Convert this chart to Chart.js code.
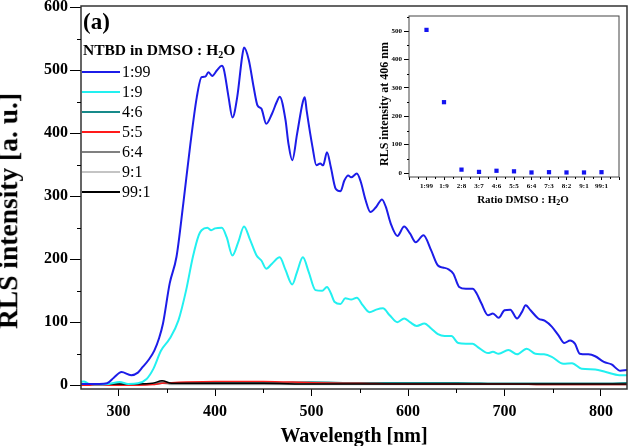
<!DOCTYPE html>
<html>
<head>
<meta charset="utf-8">
<script src="https://cdn.jsdelivr.net/npm/chart.js@4.4.0/dist/chart.umd.min.js"></script>
<style>
  body { margin: 0; background: #fff; }
  #wrap { position: relative; width: 629px; height: 446px; font-family: 'Liberation Serif', 'Times New Roman', serif; color: #000; }
  #main { position: absolute; left: 0; top: 0; }
  #inset { position: absolute; left: 375px; top: 8px; }
  #tag { position: absolute; left: 83px; top: 9px; font-weight: bold; font-size: 23px; line-height: 26px; }
  #legend-title { position: absolute; left: 83px; top: 41px; font-weight: bold; font-size: 15.5px; line-height: 18px; white-space: nowrap; }
  sub { vertical-align: -3px; line-height: 0; }
  #legend-title sub { font-size: 10px; }
  .row { position: absolute; left: 82px; height: 20px; display: flex; align-items: center; font-size: 16px; white-space: nowrap; }
  .row .swatch { display: inline-block; width: 38px; height: 2px; margin-right: 2px; }
  .vtitle { position: absolute; font-weight: bold; white-space: nowrap; transform: translate(-50%, -50%) rotate(-90deg); }
  #ytitle { left: 8px; top: 211px; font-size: 27.5px; line-height: 27.5px; }
  #inset-ytitle { left: 384px; top: 104px; font-size: 12px; line-height: 12px; }
  #inset-xtitle { position: absolute; left: 523px; top: 199px; transform: translate(-50%, -50%); font-weight: bold; font-size: 11px; line-height: 11px; white-space: nowrap; }
  #inset-xtitle sub { font-size: 8px; vertical-align: -2px; }
</style>
</head>
<body>
<div id="wrap">
  <canvas id="main" width="629" height="446"></canvas>
  <canvas id="inset" width="250" height="205"></canvas>
  <div id="ytitle" class="vtitle">RLS intensity [a. u.]</div>
  <div id="inset-ytitle" class="vtitle">RLS intensity at 406 nm</div>
  <div id="inset-xtitle">Ratio DMSO : H<sub>2</sub>O</div>
  <div id="tag">(a)</div>
  <div id="legend-title">NTBD in DMSO : H<sub>2</sub>O</div>
  <div id="legend"></div>
</div>
<script>
const serif = "'Liberation Serif', 'Times New Roman', serif";

// 1:99 spectrum
const wl199 = [260, 270, 280, 288, 295, 303, 313, 320, 325, 331, 337, 342, 346, 353, 360, 367, 374, 381, 386, 390, 393, 397, 402, 407, 409, 414, 418, 423, 428, 430, 435, 440, 444, 448, 453, 459, 464, 467, 473, 476, 480, 485, 491, 493, 495, 501, 505, 509, 512, 516, 520, 525, 530, 534, 538, 541, 547, 551, 556, 561, 567, 573, 577, 582, 589, 596, 602, 608, 616, 624, 631, 636, 642, 647, 653, 660, 667, 671, 676, 683, 688, 694, 700, 706, 713, 718, 722, 727, 735, 742, 749, 756, 762, 768, 773, 778, 787, 794, 803, 811, 820, 827];
const int199 = [2, 2, 2, 3, 12, 21, 16, 20, 29, 40, 55, 75, 98, 162, 204, 288, 378, 457, 489, 490, 497, 491, 500, 507, 502, 457, 425, 458, 521, 536, 516, 473, 444, 439, 415, 431, 450, 458, 421, 384, 357, 399, 450, 457, 435, 378, 349, 352, 349, 370, 346, 312, 308, 325, 333, 330, 336, 323, 294, 275, 283, 295, 283, 257, 237, 252, 241, 227, 238, 214, 190, 187, 184, 177, 156, 153, 153, 146, 130, 111, 114, 107, 119, 120, 106, 116, 127, 119, 106, 102, 93, 79, 67, 71, 66, 50, 49, 46, 37, 33, 23, 24];

// 1:9 spectrum
const wl19 = [260, 264, 268, 275, 290, 301, 310, 320, 329, 336, 344, 353, 362, 370, 377, 383, 386, 392, 396, 400, 407, 412, 418, 424, 430, 436, 443, 448, 453, 459, 467, 473, 480, 485, 491, 497, 504, 511, 516, 520, 524, 530, 535, 541, 547, 553, 560, 567, 574, 581, 589, 596, 602, 609, 617, 624, 631, 638, 645, 652, 660, 667, 672, 683, 688, 694, 704, 713, 723, 732, 741, 749, 761, 770, 780, 794, 805, 819, 827];
const int19 = [5, 6, 3, 1, 2, 5, 2, 3, 10, 26, 55, 74, 103, 151, 204, 238, 246, 250, 246, 249, 250, 235, 206, 227, 252, 232, 206, 198, 185, 193, 203, 183, 160, 180, 203, 180, 151, 150, 156, 146, 132, 129, 138, 136, 139, 127, 116, 120, 122, 111, 100, 106, 100, 94, 98, 90, 81, 78, 78, 67, 66, 66, 61, 51, 53, 50, 56, 49, 58, 50, 49, 45, 34, 35, 26, 25, 21, 16, 16];

// weak spectra
const wlTrace = [260, 280, 300, 320, 335, 345, 355, 370, 400, 450, 500, 550, 600, 650, 700, 750, 800, 827];
const int46 = [2, 1, 1, 2, 2, 3, 3, 4, 4, 4, 5, 4, 4, 4, 3, 3, 3, 4];
const int55 = [0, 0, 0, 0, 1, 3, 4, 5, 6, 6, 4, 3, 2, 2, 2, 1, 1, 1];
const int64 = [1, 1, 1, 1, 2, 5, 2, 2, 2, 2, 2, 2, 2, 2, 2, 1, 1, 1];
const int91 = [1, 1, 1, 1, 1, 3, 1, 1, 1, 1, 1, 1, 1, 1, 1, 1, 1, 1];
const int991 = [2, 2, 2, 2, 3, 7, 3, 3, 3, 3, 2, 2, 2, 2, 2, 2, 2, 2];
const yTicks = [0, 100, 200, 300, 400, 500, 600];

// inset: intensity at 406 nm
const ratioLabels = ['1:99', '1:9', '2:8', '3:7', '4:6', '5:5', '6:4', '7:3', '8:2', '9:1', '99:1'];
const rlsAt406 = [505, 250, 12, 4, 8, 6, 2, 3, 2, 2, 3];
const insetTicks = [0, 100, 200, 300, 400, 500];

const pts = (xs, ys) => xs.map((x, i) => ({ x: x, y: ys[i] }));

// box around the plot + short minor ticks half way between the major ones
const framePlugin = {
    id: 'frame',
    afterDraw(chart, args, opts) {
        const { ctx, chartArea: a } = chart;
        ctx.save();
        ctx.strokeStyle = opts.color;
        ctx.lineWidth = opts.width;
        ctx.strokeRect(a.left, a.top, a.right - a.left, a.bottom - a.top);
        ctx.strokeStyle = '#000';
        ctx.lineWidth = 1;
        const xs = chart.scales.x, ys = chart.scales.y;
        const mids = (scale) => {
            const v = scale.ticks.map(t => t.value);
            const step = v[1] - v[0];
            const out = [];
            for (let m = v[0] - step / 2; m <= scale.max; m += step) {
                if (m >= scale.min) out.push(m);
            }
            return out;
        };
        ctx.beginPath();
        mids(xs).forEach(m => {
            const px = Math.round(xs.getPixelForValue(m)) + 0.5;
            ctx.moveTo(px, a.bottom);
            ctx.lineTo(px, a.bottom + opts.minorLen);
        });
        mids(ys).forEach(m => {
            const py = Math.round(ys.getPixelForValue(m)) + 0.5;
            ctx.moveTo(a.left, py);
            ctx.lineTo(a.left - opts.minorLen, py);
        });
        ctx.stroke();
        ctx.restore();
    }
};

const mainChart = new Chart(document.getElementById('main'), {
    type: 'line',
    data: {
        datasets: [
            { label: '1:99', data: pts(wl199, int199), borderColor: '#1c1ce8', borderWidth: 2, order: 0 },
            { label: '1:9', data: pts(wl19, int19), borderColor: '#22f0f0', borderWidth: 2, order: 1 },
            { label: '4:6', data: pts(wlTrace, int46), borderColor: '#168a8a', borderWidth: 1.5, order: 4 },
            { label: '5:5', data: pts(wlTrace, int55), borderColor: '#ff1a1a', borderWidth: 1.5, order: 3 },
            { label: '6:4', data: pts(wlTrace, int64), borderColor: '#808080', borderWidth: 1.5, order: 5 },
            { label: '9:1', data: pts(wlTrace, int91), borderColor: '#c4c4c4', borderWidth: 1.5, order: 6 },
            { label: '99:1', data: pts(wlTrace, int991), borderColor: '#000000', borderWidth: 1.5, order: 2 }
        ]
    },
    options: {
        responsive: false,
        animation: false,
        events: [],
        layout: { padding: { top: 6, right: 2, left: 0, bottom: 0 } },
        elements: {
            point: { radius: 0 },
            line: { cubicInterpolationMode: 'monotone', fill: false }
        },
        plugins: {
            legend: { display: false },
            tooltip: { enabled: false },
            frame: { color: '#333', width: 1.5, minorLen: 4 }
        },
        scales: {
            x: {
                type: 'linear',
                min: 261,
                max: 827,
                border: { display: false },
                grid: { drawOnChartArea: false, drawTicks: true, tickLength: 7, color: '#000' },
                ticks: {
                    stepSize: 100, includeBounds: false, autoSkip: false, maxRotation: 0,
                    padding: 6, color: '#000',
                    font: { family: serif, size: 16, weight: 'bold' }
                },
                title: {
                    display: true, text: 'Wavelength [nm]', color: '#000',
                    font: { family: serif, size: 20, weight: 'bold', lineHeight: 1 },
                    padding: { top: 0, bottom: -1 }
                },
                afterFit: s => { s.height = 446 - 389; s.paddingLeft = 0; s.paddingRight = 0; }
            },
            y: {
                min: -6,
                max: 602,
                border: { display: false },
                grid: { drawOnChartArea: false, drawTicks: true, tickLength: 11, color: '#000' },
                ticks: {
                    padding: 2, color: '#000',
                    font: { family: serif, size: 16, weight: 'bold' }
                },
                afterBuildTicks: s => { s.ticks = yTicks.map(v => ({ value: v })); },
                afterFit: s => { s.width = 81; s.paddingTop = 0; s.paddingBottom = 0; }
            }
        }
    },
    plugins: [framePlugin]
});

const insetChart = new Chart(document.getElementById('inset'), {
    type: 'scatter',
    data: {
        datasets: [{
            label: 'RLS at 406 nm',
            data: rlsAt406.map((v, i) => ({ x: i + 1, y: v })),
            backgroundColor: '#1414f0',
            borderColor: '#1414f0',
            pointStyle: 'rect',
            pointRadius: 3,
            borderWidth: 0
        }]
    },
    options: {
        responsive: false,
        animation: false,
        events: [],
        layout: { padding: { top: 8, right: 6, left: 0, bottom: 0 } },
        plugins: {
            legend: { display: false },
            tooltip: { enabled: false },
            frame: { color: '#444', width: 1, minorLen: 2 }
        },
        scales: {
            x: {
                type: 'linear',
                min: 0,
                max: 12,
                border: { display: false },
                grid: { drawOnChartArea: false, drawTicks: true, tickLength: 3, color: '#000' },
                ticks: {
                    stepSize: 1, autoSkip: false, maxRotation: 0, padding: 2, color: '#000',
                    font: { family: serif, size: 7, weight: 'bold' },
                    callback: v => ratioLabels[v - 1] || ''
                },
                afterFit: s => { s.height = 205 - 169; s.paddingLeft = 0; s.paddingRight = 0; }
            },
            y: {
                min: -14,
                max: 554,
                border: { display: false },
                grid: { drawOnChartArea: false, drawTicks: true, tickLength: 5, color: '#000' },
                ticks: {
                    padding: 2, color: '#000',
                    font: { family: serif, size: 7, weight: 'bold' }
                },
                afterBuildTicks: s => { s.ticks = insetTicks.map(v => ({ value: v })); },
                afterFit: s => { s.width = 34; s.paddingTop = 0; s.paddingBottom = 0; }
            }
        }
    },
    plugins: [framePlugin]
});

// legend rows built from the main chart datasets
const legendEl = document.getElementById('legend');
mainChart.data.datasets.forEach((ds, i) => {
    const row = document.createElement('div');
    row.className = 'row';
    row.style.top = (62 + i * 20) + 'px';
    const sw = document.createElement('span');
    sw.className = 'swatch';
    sw.style.background = ds.borderColor;
    row.appendChild(sw);
    row.appendChild(document.createTextNode(ds.label));
    legendEl.appendChild(row);
});
</script>
</body>
</html>
